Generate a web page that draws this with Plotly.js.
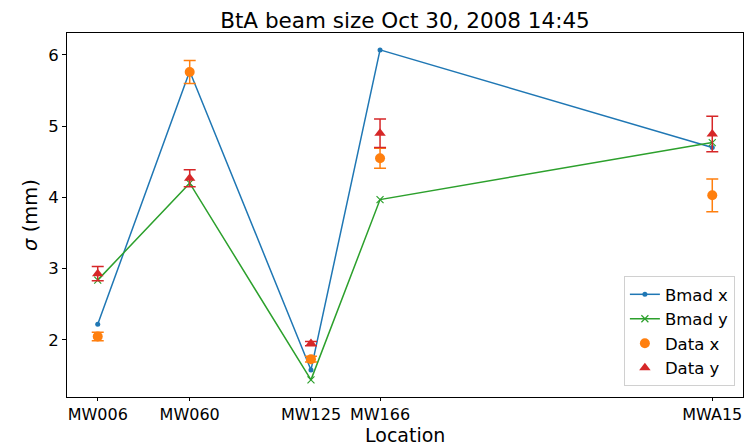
<!DOCTYPE html>
<html>
<head>
<meta charset="utf-8">
<script src="https://cdn.plot.ly/plotly-3.0.1.min.js"></script>
<style>
  html, body { margin: 0; padding: 0; background: #fff; }
  #chart { width: 752px; height: 446px; }
</style>
</head>
<body>
<div id="chart"></div>
<script>
// Beam-size monitor locations along the BtA line (s, m) and their names
const monitors = ["MW006", "MW060", "MW125", "MW166", "MWA15"];
const sPos = [0, 9.23, 21.4, 28.33, 61.67];

// Bmad model beam sizes (mm)
const bmadX = [2.22, 5.77, 1.58, 6.07, 4.70];
const bmadY = [2.84, 4.20, 1.44, 3.97, 4.77];

// Measured beam sizes and their errors (mm)
const dataX = [2.05, 5.76, 1.73, 4.55, 4.03];
const dataXErr = [0.06, 0.16, 0.04, 0.14, 0.23];
const dataY = [2.93, 4.27, 1.95, 4.90, 4.89];
const dataYErr = [0.10, 0.12, 0.03, 0.20, 0.25];

const C = { blue: "#1f77b4", green: "#2ca02c", orange: "#ff7f0e", red: "#d62728" };
const FONT = "DejaVu Sans, sans-serif";

const traces = [
  {
    name: "Bmad x", x: sPos, y: bmadX, mode: "lines+markers",
    line: { color: C.blue, width: 1.5 },
    marker: { color: C.blue, size: 5, symbol: "circle" }
  },
  {
    name: "Bmad y", x: sPos, y: bmadY, mode: "lines+markers",
    line: { color: C.green, width: 1.5 },
    marker: { color: C.green, size: 7, symbol: "x-thin", line: { color: C.green, width: 1.2 } }
  },
  {
    name: "Data x", x: sPos, y: dataX, mode: "markers",
    marker: { color: C.orange, size: 10, symbol: "circle" },
    error_y: { type: "data", array: dataXErr, visible: true, color: C.orange, thickness: 1.5, width: 6 }
  },
  {
    name: "Data y", x: sPos, y: dataY, mode: "markers",
    marker: { color: C.red, size: 10, symbol: "triangle-up" },
    error_y: { type: "data", array: dataYErr, visible: true, color: C.red, thickness: 1.5, width: 6 }
  }
];

const span = sPos[sPos.length - 1] - sPos[0];
const layout = {
  width: 752, height: 446,
  margin: { l: 67, r: 9, t: 33, b: 49 },
  paper_bgcolor: "#fff", plot_bgcolor: "#fff",
  font: { family: FONT, size: 16, color: "#000" },
  title: {
    text: "BtA beam size Oct 30, 2008 14:45",
    font: { family: FONT, size: 21.5, color: "#000" },
    x: 0.5, xref: "paper", xanchor: "center",
    y: 1, yref: "paper", yanchor: "bottom", pad: { b: 5 }
  },
  xaxis: {
    range: [sPos[0] - 0.05 * span, sPos[sPos.length - 1] + 0.05 * span],
    tickvals: sPos, ticktext: monitors,
    ticks: "outside", ticklen: 3, tickwidth: 1, tickcolor: "#000",
    showgrid: false, zeroline: false,
    showline: true, mirror: true, linecolor: "#000", linewidth: 1,
    tickfont: { family: FONT, size: 16, color: "#000" }
  },
  yaxis: {
    range: [1.2, 6.307],
    tickvals: [2, 3, 4, 5, 6],
    ticks: "outside", ticklen: 4, tickwidth: 1, tickcolor: "#000",
    showgrid: false, zeroline: false,
    showline: true, mirror: true, linecolor: "#000", linewidth: 1,
    tickfont: { family: FONT, size: 16.5, color: "#000" },
    title: { text: "<i>σ</i> (mm)", font: { family: FONT, size: 19.5, color: "#000" }, standoff: 5 }
  },
  // x-axis label, placed below the tick labels
  annotations: [{
    text: "Location", xref: "paper", yref: "paper", x: 0.5, y: 0,
    xanchor: "center", yanchor: "middle", yshift: -37.5, showarrow: false,
    borderpad: 0,
    font: { family: FONT, size: 19, color: "#000" }
  }],
  legend: {
    x: 0.988, xanchor: "right", y: 0.03, yanchor: "bottom",
    bgcolor: "rgba(255,255,255,0.8)", bordercolor: "#d0d0d0", borderwidth: 1,
    font: { family: FONT, size: 16.5, color: "#000" },
    tracegroupgap: 0
  },
  showlegend: true
};

Plotly.newPlot("chart", traces, layout, { displayModeBar: false, staticPlot: true });
</script>
</body>
</html>
